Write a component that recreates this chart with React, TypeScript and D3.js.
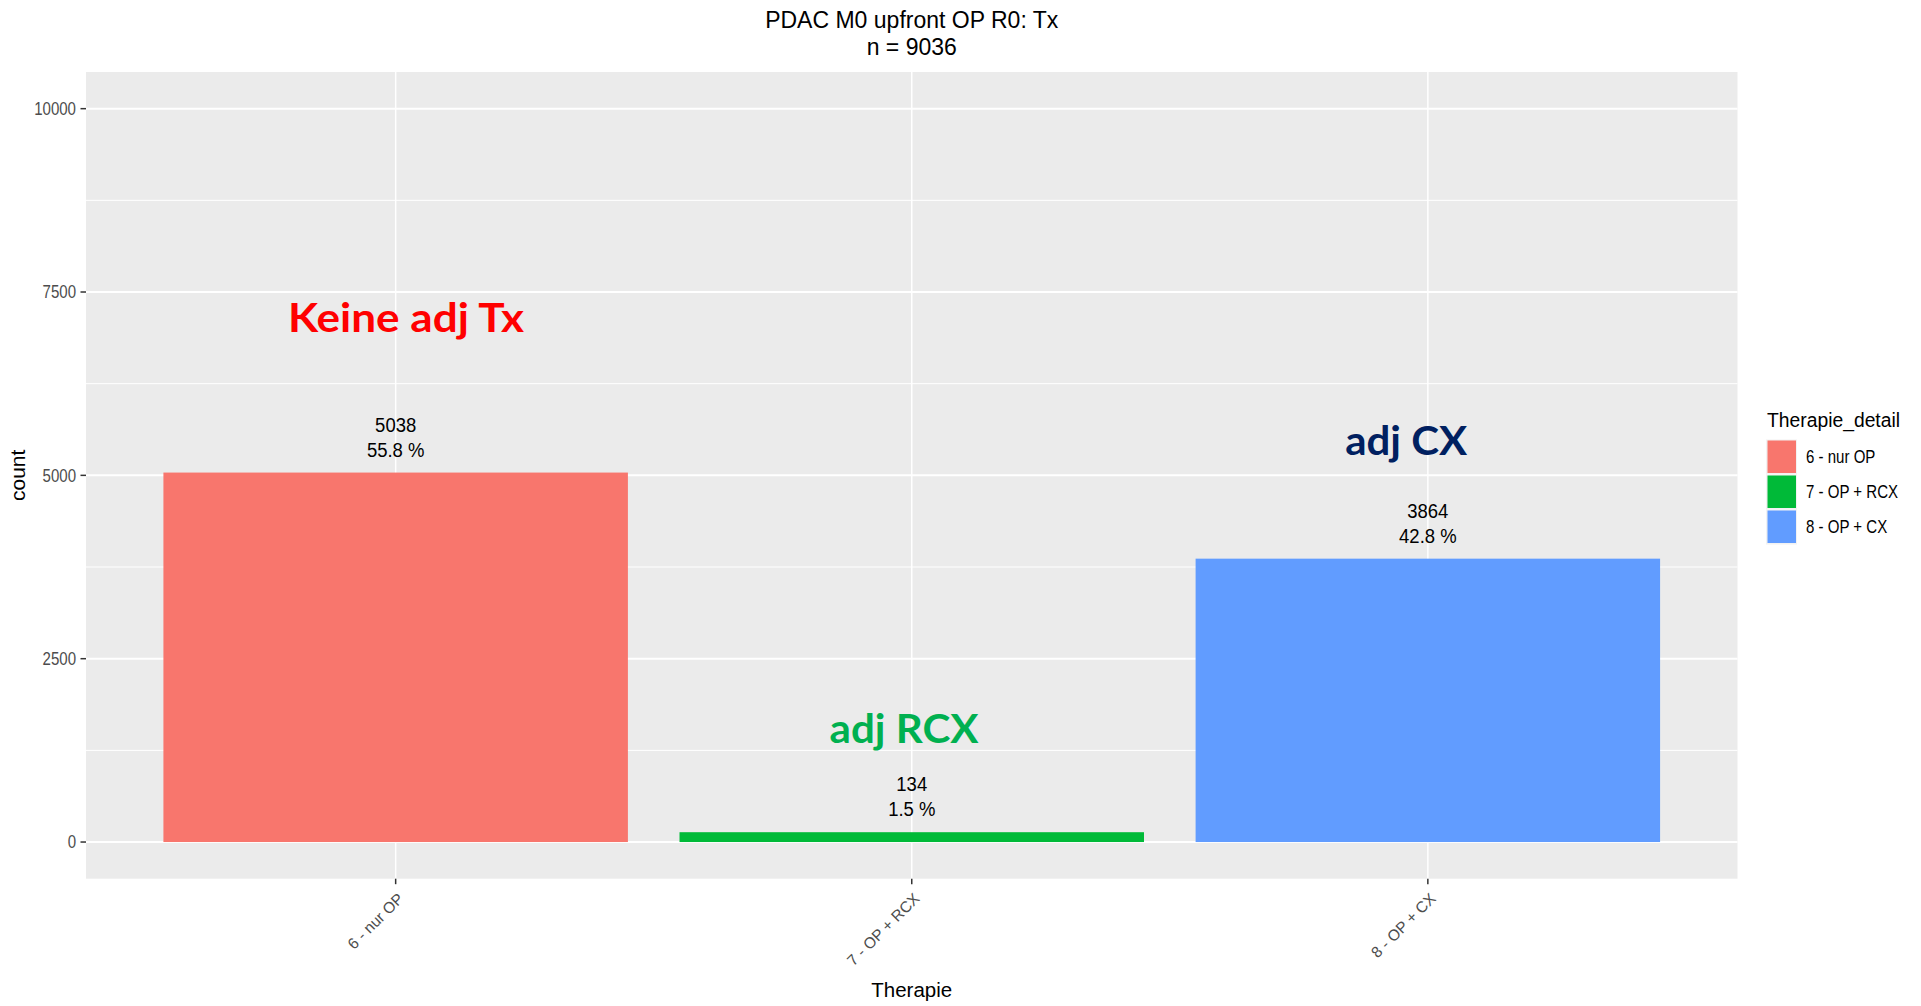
import React from "react";
import * as d3 from "d3";

const categories = ["6 - nur OP", "7 - OP + RCX", "8 - OP + CX"];
const counts = [5038, 134, 3864];
const percentLabels = ["55.8 %", "1.5 %", "42.8 %"];
const barColors = ["#F8766D", "#00BA38", "#619CFF"];
const yTicks = [0, 2500, 5000, 7500, 10000];
const yMinorTicks = [1250, 3750, 6250, 8750];
const titleLines = ["PDAC M0 upfront OP R0: Tx", "n = 9036"];
const annTexts = ["Keine adj Tx", "adj RCX", "adj CX"];
const annX = [1.02, 1.985, 2.958];
const annY = [6955, 1346, 5277];
const annColors = ["#FF0000", "#00B050", "#002060"];
const annWidths = [236, 149, 122];

const W = 1921;
const H = 1006;
const panel = { l: 86, r: 1737.5, t: 72, b: 878.7 };

export default function App() {
  const x = d3.scaleLinear().domain([0.4, 3.6]).range([panel.l, panel.r]);
  const y = d3.scaleLinear().domain([-500, 10500]).range([panel.b, panel.t]);
  const font = "'Liberation Sans', Arial, sans-serif";
  const bw = x(1.45) - x(1);

  return (
    <svg
      width={W}
      height={H}
      style={{ position: "absolute", left: 0, top: 0, background: "#fff" }}
      fontFamily={font}
    >
      <rect x={0} y={0} width={W} height={H} fill="#fff" />
      {/* panel */}
      <rect x={panel.l} y={panel.t} width={panel.r - panel.l} height={panel.b - panel.t} fill="#EBEBEB" />
      {yMinorTicks.map((t) => (
        <line key={"mn" + t} x1={panel.l} x2={panel.r} y1={y(t)} y2={y(t)} stroke="#fff" strokeWidth={1} />
      ))}
      {yTicks.map((t) => (
        <line key={"mj" + t} x1={panel.l} x2={panel.r} y1={y(t)} y2={y(t)} stroke="#fff" strokeWidth={2} />
      ))}
      {categories.map((c, i) => (
        <line key={"vx" + c} x1={x(i + 1)} x2={x(i + 1)} y1={panel.t} y2={panel.b} stroke="#fff" strokeWidth={1.5} />
      ))}
      {/* bars */}
      {categories.map((c, i) => (
        <rect
          key={"bar" + c}
          x={x(i + 1) - bw}
          width={2 * bw}
          y={y(counts[i])}
          height={y(0) - y(counts[i])}
          fill={barColors[i]}
        />
      ))}
      {/* value labels */}
      {categories.map((c, i) => {
        const top = y(counts[i]);
        const cx = x(i + 1);
        return (
          <g key={"lab" + c} fill="#000" fontSize={21} textAnchor="middle">
            <text transform={`translate(${cx},${top - 41}) scale(0.88,1)`}>{counts[i]}</text>
            <text transform={`translate(${cx},${top - 16}) scale(0.88,1)`}>{percentLabels[i]}</text>
          </g>
        );
      })}
      {/* annotations */}
      {annTexts.map((t, i) => (
        <text
          key={"ann" + t}
          x={x(annX[i])}
          y={y(annY[i])}
          fill={annColors[i]}
          fontFamily="Lato, 'Open Sans', sans-serif"
          fontWeight={700}
          fontSize={40}
          textAnchor="middle"
          textLength={annWidths[i]}
          lengthAdjust="spacingAndGlyphs"
        >
          {t}
        </text>
      ))}
      {/* y axis */}
      {yTicks.map((t) => (
        <g key={"yt" + t}>
          <line x1={panel.l - 5.5} x2={panel.l} y1={y(t)} y2={y(t)} stroke="#333" strokeWidth={1.5} />
          <text
            transform={`translate(${panel.l - 10},${y(t) + 6.3}) scale(0.86,1)`}
            textAnchor="end"
            fontSize={17.5}
            fill="#4D4D4D"
          >
            {t}
          </text>
        </g>
      ))}
      {/* x axis */}
      {categories.map((c, i) => (
        <g key={"xt" + c}>
          <line x1={x(i + 1)} x2={x(i + 1)} y1={panel.b} y2={panel.b + 5.5} stroke="#333" strokeWidth={1.5} />
          <text
            transform={`translate(${x(i + 1) + 1},${panel.b + 13}) rotate(-45)`}
            textAnchor="end"
            dy="0.72em"
            fontSize={15.5}
            fill="#4D4D4D"
          >
            {c}
          </text>
        </g>
      ))}
      {/* axis titles */}
      <text x={(panel.l + panel.r) / 2} y={997} textAnchor="middle" fontSize={20.5} fill="#000">
        Therapie
      </text>
      <text
        transform={`translate(25,${(panel.t + panel.b) / 2}) rotate(-90)`}
        textAnchor="middle"
        fontSize={21}
        fill="#000"
      >
        count
      </text>
      {/* title */}
      {titleLines.map((t, i) => (
        <text key={"ti" + i} x={(panel.l + panel.r) / 2} y={28.3 + i * 26.7} textAnchor="middle" fontSize={23} fill="#000">
          {t}
        </text>
      ))}
      {/* legend */}
      <text transform="translate(1767,426.7) scale(0.92,1)" fontSize={21} fill="#000">
        Therapie_detail
      </text>
      {categories.map((c, i) => {
        const ky = 440.5 + i * 35;
        return (
          <g key={"lg" + c}>
            <rect x={1766} y={ky - 1} width={31} height={35} fill="#F2F2F2" />
            <rect x={1767.5} y={ky} width={28.5} height={32.5} fill={barColors[i]} />
            <text transform={`translate(1806,${ky + 16.3 + 6.3}) scale(0.86,1)`} fontSize={17.5} fill="#000">
              {c}
            </text>
          </g>
        );
      })}
    </svg>
  );
}
